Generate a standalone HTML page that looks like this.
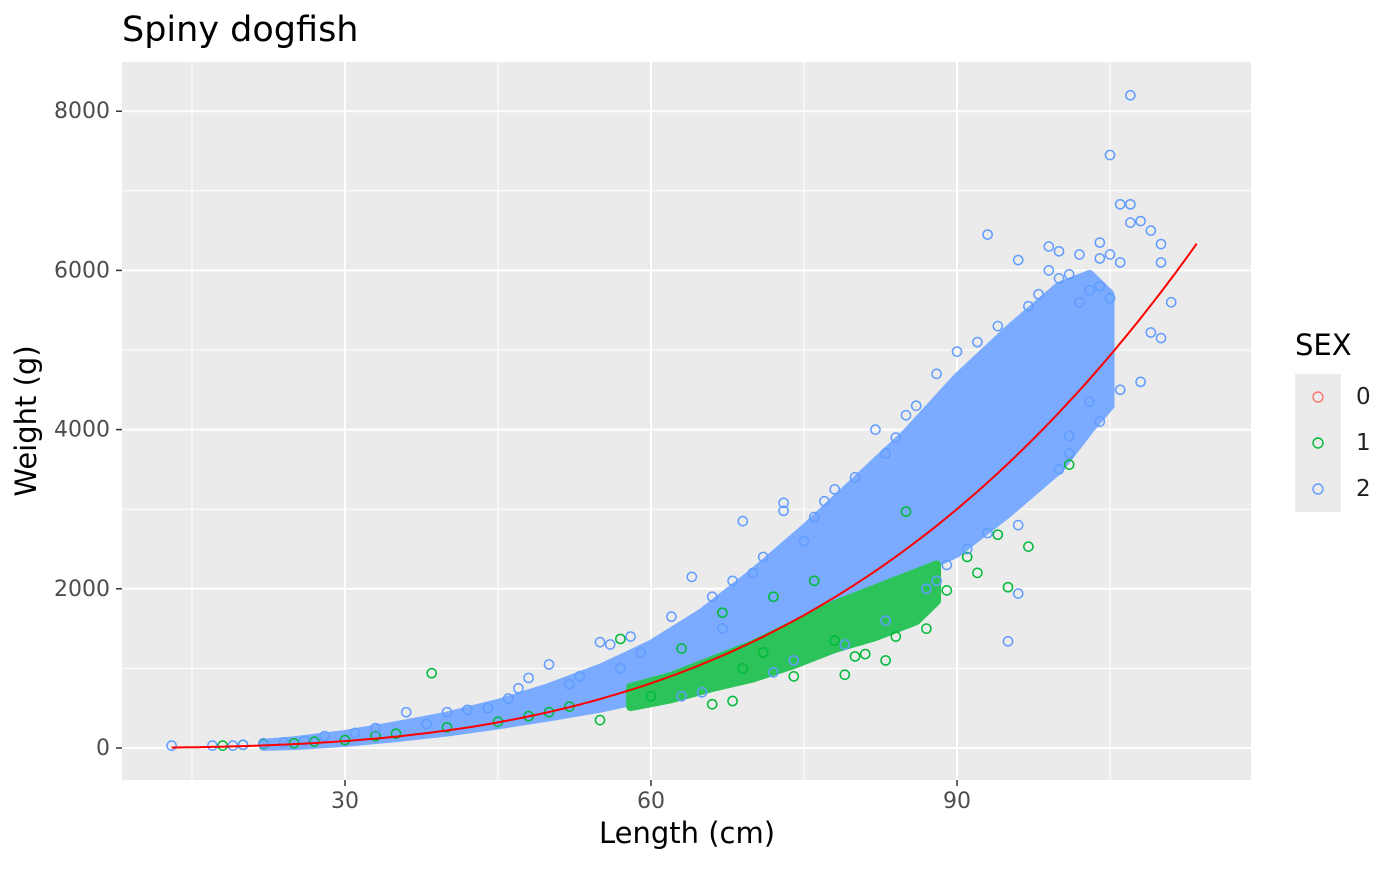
<!DOCTYPE html>
<html><head><meta charset="utf-8"><style>
body{margin:0;background:#fff;font-family:"Liberation Sans","DejaVu Sans",sans-serif}
svg text{font-family:"DejaVu Sans","Liberation Sans",sans-serif}
</style></head><body>
<svg id="chart" width="1400" height="865" viewBox="0 0 1400 865" xmlns="http://www.w3.org/2000/svg">
<text x="122" y="41" font-size="35" fill="#000">Spiny dogfish</text>
<rect x="122" y="62" width="1129" height="718" fill="#ebebeb"/>
<g id="grid"></g><g id="marks"></g><g id="axes"></g>
<text x="687" y="843" font-size="29" text-anchor="middle">Length (cm)</text>
<text transform="translate(36,421) rotate(-90)" font-size="29" text-anchor="middle">Weight (g)</text>
<g>
<text x="1295" y="355" font-size="29">SEX</text>
<rect x="1295" y="374" width="46" height="138" fill="#ebebeb"/>
<circle cx="1318" cy="397" r="5" fill="none" stroke="#f8766d" stroke-width="1.4"/>
<circle cx="1318" cy="443" r="5" fill="none" stroke="#00ba38" stroke-width="1.4"/>
<circle cx="1318" cy="489" r="5" fill="none" stroke="#619cff" stroke-width="1.4"/>
<text x="1356" y="404" font-size="23" fill="#222">0</text>
<text x="1356" y="450" font-size="23" fill="#222">1</text>
<text x="1356" y="496" font-size="23" fill="#222">2</text>
</g>
</svg>
<script>
const xMajor=[30,60,90];
const xMinor=[15,45,75,105];
const yMajor=[0,2000,4000,6000,8000];
const yMinor=[1000,3000,5000,7000];
// density envelopes (length, low weight, high weight)
const blueEnvL=[22,25,30,35,40,45,50,55,60,65,70,75,80,85,90,95,100,103,105];
const blueEnvLo=[20,30,70,130,200,290,390,500,640,830,1080,1350,1750,2150,2450,2950,3500,4000,4300];
const blueEnvHi=[60,90,170,280,400,560,760,1000,1300,1700,2200,2750,3350,3950,4650,5250,5800,5950,5700];
const greenEnvL=[58,62,66,70,74,78,82,86,88];
const greenEnvLo=[520,620,760,880,1050,1250,1400,1600,1850];
const greenEnvHi=[760,900,1100,1300,1550,1800,2000,2200,2300];
const blueL=[13,107,105,106,107,108,107,109,110,110,111,110,109,108,106,95,96,93,96,85,82,78,73,73,69,68,55,56,48,47,36,99,100,102,104,104,105,106,105,103,104,101,100,103,104,101,90,88,75,64,62,59,53,44,40,33,28,22,20,17,19,98,97,99,102,94,92,91,89,86,84,83,80,77,76,71,70,66,67,58,57,52,50,46,42,38,31,26,24,100,101,96,93,88,87,83,79,74,72,65,63];
const blueW=[30,8200,7450,6830,6830,6620,6600,6500,6330,6100,5600,5150,5220,4600,4500,1340,1940,6450,6130,4180,4000,3250,3080,2980,2850,2100,1330,1300,880,750,450,6300,6240,6200,6350,6150,6200,6100,5650,5750,5800,5950,5900,4350,4100,3920,4980,4700,2600,2150,1650,1200,900,500,450,250,150,60,40,30,30,5700,5550,6000,5600,5300,5100,2500,2300,4300,3900,3700,3400,3100,2900,2400,2200,1900,1500,1400,1000,800,1050,620,480,300,190,90,70,3500,3700,2800,2700,2100,2000,1600,1300,1100,950,700,650];
const greenL=[38.5,57,97,95,101,94,79,74,85,87,66,68,63,55,18,20,22,25,27,30,33,35,40,45,50,72,67,76,83,81,91,92,89,84,80,78,71,69,60,52,48];
const greenW=[940,1370,2530,2020,3560,2680,920,900,2970,1500,550,590,1250,350,30,40,50,60,80,100,150,180,260,330,450,1900,1700,2100,1100,1180,2400,2200,1980,1400,1150,1350,1200,1000,650,520,400];
// fitted curve W = a L^b
const fitA=0.00153, fitB=3.22, fitStart=13, fitEnd=113.7;

const sx=v=>39+v*10.2, sy=v=>748-v*0.0796;
const NS="http://www.w3.org/2000/svg";
function mk(p,tag,at){const e=document.createElementNS(NS,tag);for(const k in at)e.setAttribute(k,at[k]);p.appendChild(e);return e;}
const grid=document.getElementById('grid'),marks=document.getElementById('marks'),axes=document.getElementById('axes');
yMinor.forEach(v=>{const l=mk(grid,'line',{x1:122,x2:1251,y1:sy(v),y2:sy(v),stroke:'#fff','stroke-width':1});

});
xMinor.forEach(v=>{const l=mk(grid,'line',{x1:sx(v),x2:sx(v),y1:62,y2:780,stroke:'#fff','stroke-width':1});

});
yMajor.forEach(v=>{const l=mk(grid,'line',{x1:122,x2:1251,y1:sy(v),y2:sy(v),stroke:'#fff','stroke-width':2});


mk(axes,'line',{x1:116,x2:122,y1:sy(v),y2:sy(v),stroke:'#333','stroke-width':1.5});
const t=mk(axes,'text',{x:110,y:sy(v)+7,'font-size':22,fill:'#4d4d4d','text-anchor':'end'});t.textContent=v;

});
xMajor.forEach(v=>{const l=mk(grid,'line',{x1:sx(v),x2:sx(v),y1:62,y2:780,stroke:'#fff','stroke-width':2});


mk(axes,'line',{x1:sx(v),x2:sx(v),y1:780,y2:786,stroke:'#333','stroke-width':1.5});
const t=mk(axes,'text',{x:sx(v),y:808,'font-size':22,fill:'#4d4d4d','text-anchor':'middle'});t.textContent=v;

});
function env(L,lo,hi,col,name){let p=L.map((l,i)=>sx(l)+','+sy(hi[i]));for(let i=L.length-1;i>=0;i--)p.push(sx(L[i])+','+sy(lo[i]));
const e=mk(marks,'polygon',{points:p.join(' '),fill:col,stroke:col,'stroke-width':9,'stroke-linejoin':'round'});

}
function pts(L,W,col,name){L.forEach((l,i)=>{const c=mk(marks,'circle',{cx:sx(l),cy:sy(W[i]),r:4.6,fill:'none',stroke:col,'stroke-width':1.5});

});}
env(blueEnvL,blueEnvLo,blueEnvHi,'#7aabff','sex-2-dense-band');
env(greenEnvL,greenEnvLo,greenEnvHi,'#2cc45a','sex-1-dense-band');
pts(greenL,greenW,'#00ba38','sex-1-point');
pts(blueL,blueW,'#619cff','sex-2-point');
let d='';for(let l=fitStart;l<=fitEnd;l+=0.5){d+=(d?'L':'M')+sx(l).toFixed(1)+','+sy(fitA*Math.pow(l,fitB)).toFixed(1);}
const fl=mk(marks,'path',{d:d,fill:'none',stroke:'#ff0000','stroke-width':2});


</script>
</body></html>
